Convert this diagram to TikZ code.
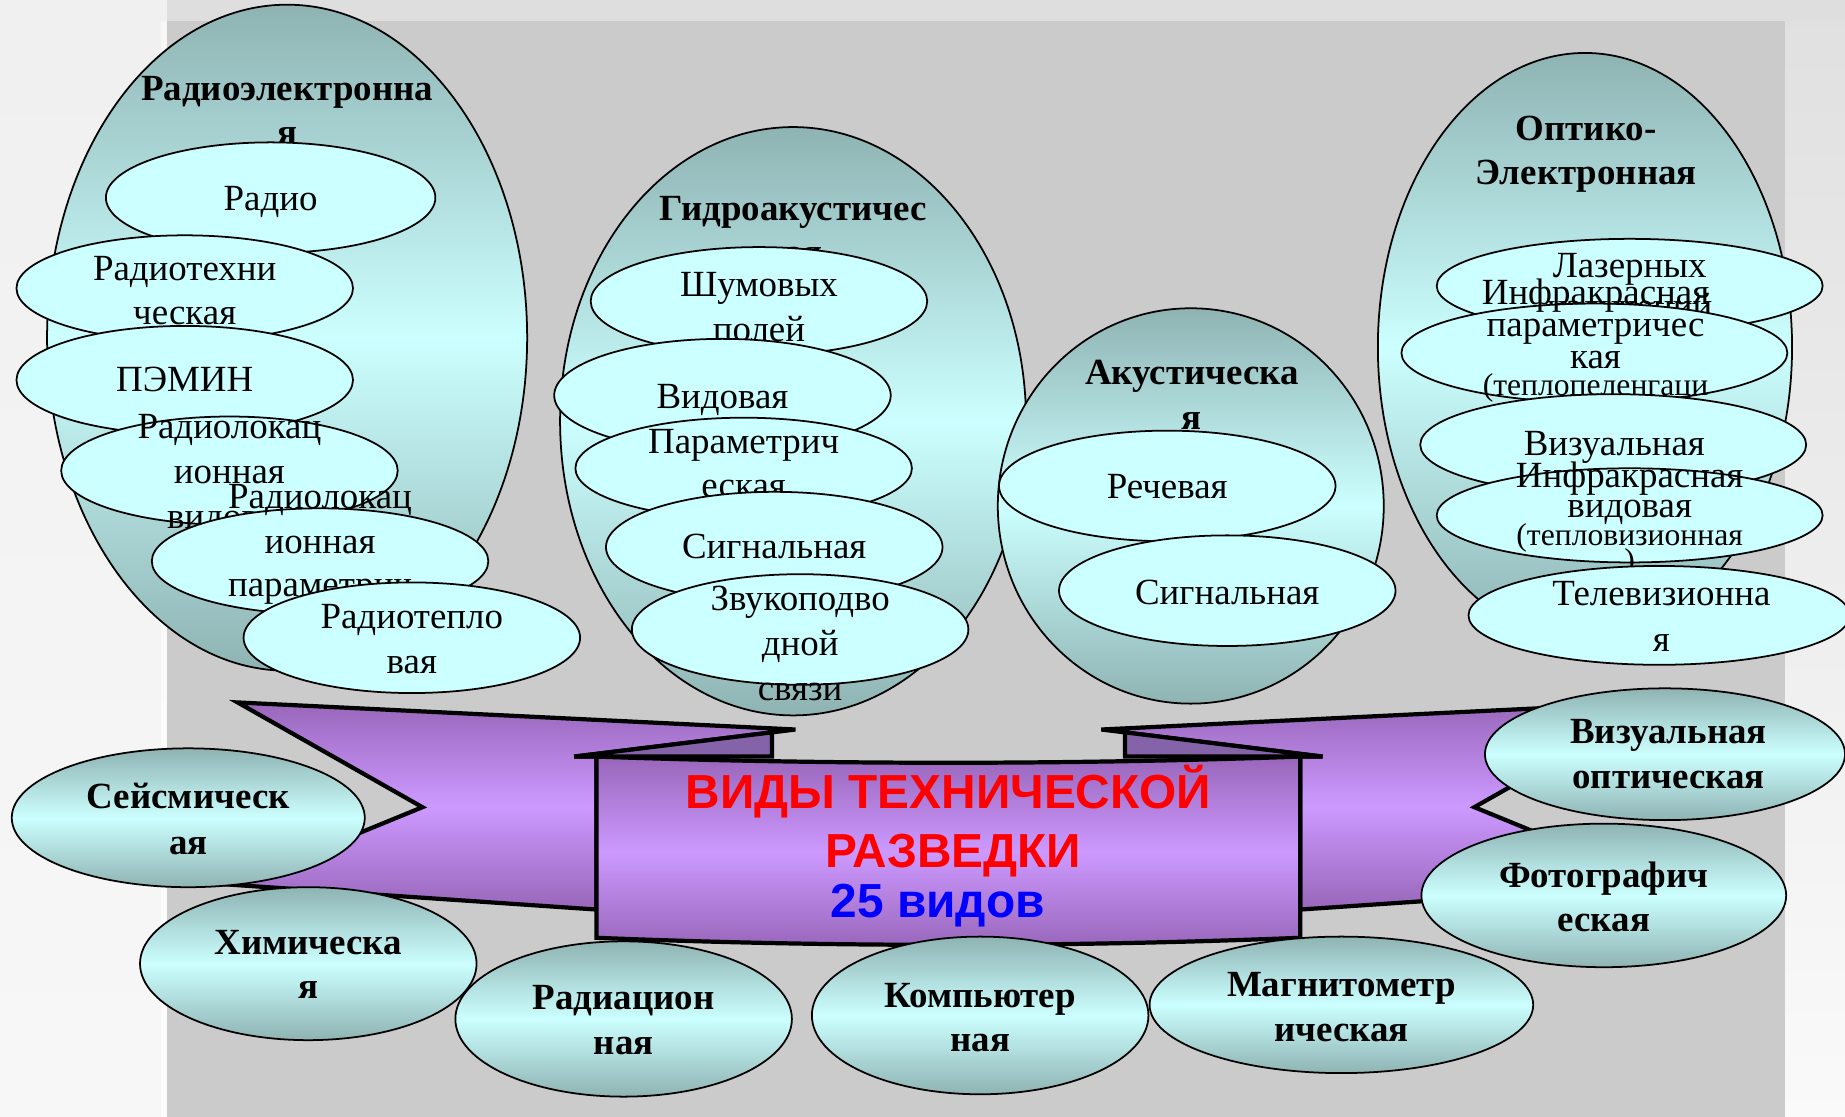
\documentclass[tikz,border=0pt]{standalone}
\usepackage{fontspec}
\setmainfont{Liberation Serif}
\newfontfamily\arialf{Liberation Sans}
\usetikzlibrary{shapes.geometric}
\definecolor{tealD}{HTML}{8FB3B3}
\definecolor{cyanL}{HTML}{CCFFFF}
\definecolor{ribD}{HTML}{9966BB}
\definecolor{ribL}{HTML}{CC99FF}
\definecolor{foldC}{HTML}{8563A8}
\definecolor{panelG}{HTML}{CBCBCB}
\definecolor{stripT}{HTML}{DEDEDE}
\tikzset{
 ebase/.style={ellipse, draw=black, line width=0.5pt, inner sep=0pt, outer sep=0pt},
 bigell/.style 2 args={ebase, minimum width={#1*0.023534cm}, minimum height={#2*0.023534cm}, top color=tealD, bottom color=tealD, middle color=cyanL},
 smell/.style 2 args={ebase, fill=cyanL, minimum width={#1*0.023534cm}, minimum height={#2*0.023534cm}},
 tx/.style={inner sep=0pt, anchor=base, font=\fontsize{10.5}{12.6}\selectfont},
 txb/.style={inner sep=0pt, anchor=base, font=\fontsize{10.5}{12.6}\selectfont\bfseries},
 txs/.style={inner sep=0pt, anchor=base, font=\fontsize{9}{10.8}\selectfont},
 ttl/.style={inner sep=0pt, anchor=base, font={\arialf\bfseries\fontsize{13.6}{16}\selectfont}},
 rib/.style={draw=black, line width=1.2pt, line join=miter, top color=ribD, bottom color=ribD, middle color=ribL},
 foldtri/.style={draw=black, line width=1.2pt, line join=miter, fill=foldC},
}
\begin{document}
\begin{tikzpicture}[x=0.011767cm, y=-0.011767cm]
\useasboundingbox (0,0) rectangle (1568,949);
% backgrounds
\fill[white!93!black] (0,0) rectangle (1568,949);
\shade[top color=white!94!black, middle color=white!87!black, bottom color=white!97!black] (0,0) rectangle (142,949);
\shade[top color=white!97!black, middle color=white!93!black, bottom color=white!99!black] (137,18) rectangle (142,949);
\fill[stripT] (142,0) rectangle (1568,18);
\fill[panelG] (142,18) rectangle (1517,949);
\shade[top color=white!88!black, middle color=white!90!black, bottom color=white!98!black] (1517,18) rectangle (1568,949);

% group 1
\node[bigell={204}{283}] (re) at (244,287) {};
\node[txb] (re-t1) at (244,85) {Радиоэлектронна};
\node[txb] (re-t2) at (244,123) {я};
\node[smell={140}{47}] (radio) at (230,168) {};
\node[tx] (radio-t) at (230,179) {Радио};
\node[smell={143}{45}] (rteh) at (157,245) {};
\node[tx] (rteh-t1) at (157,238) {Радиотехни};
\node[tx] (rteh-t2) at (157,276) {ческая};
\node[smell={143}{46}] (pemin) at (157,323) {};
\node[tx] (pemin-t) at (157,333) {ПЭМИН};
\node[smell={143}{46}] (rlv) at (195,400) {};
\node[tx] (rlv-t1) at (195,373) {Радиолокац};
\node[tx] (rlv-t2) at (195,411) {ионная};
\node[tx] (rlv-t3) at (195,449) {видовая};
\node[smell={143}{45}] (rlp) at (272,477) {};
\node[tx] (rlp-t1) at (272,432) {Радиолокац};
\node[tx] (rlp-t2) at (272,470) {ионная};
\node[tx] (rlp-t3) at (272,507) {параметрич};
\node[smell={143}{47}] (rtep) at (350,542) {};
\node[tx] (rtep-t1) at (350,534) {Радиотепло};
\node[tx] (rtep-t2) at (350,572) {вая};

% group 2
\node[bigell={198}{250}] (ga) at (674,358) {};
\node[txb] (ga-t1) at (674,187) {Гидроакустичес};
\node[txb] (ga-t2) at (674,225) {кая};
\node[smell={143}{46}] (shum) at (645,256) {};
\node[tx] (shum-t1) at (645,252) {Шумовых};
\node[tx] (shum-t2) at (645,290) {полей};
\node[smell={143}{48}] (vid) at (614,336) {};
\node[tx] (vid-t) at (614,347) {Видовая};
\node[smell={143}{43}] (par) at (632,398) {};
\node[tx] (par-t1) at (632,385) {Параметрич};
\node[tx] (par-t2) at (632,423) {еская};
\node[smell={143}{47}] (sig) at (658,465) {};
\node[tx] (sig-t) at (658,475) {Сигнальная};
\node[smell={143}{47}] (zvuk) at (680,535) {};
\node[tx] (zvuk-t1) at (680,519) {Звукоподво};
\node[tx] (zvuk-t2) at (680,557) {дной};
\node[tx] (zvuk-t3) at (680,595) {связи};

% group 3
\node[bigell={164}{168}] (ak) at (1012,430) {};
\node[txb] (ak-t1) at (1013,327) {Акустическа};
\node[txb] (ak-t2) at (1013,365) {я};
\node[smell={143}{47}] (rech) at (992,413) {};
\node[tx] (rech-t) at (992,424) {Речевая};
\node[smell={143}{47}] (sig2) at (1043,502) {};
\node[tx] (sig2-t) at (1043,514) {Сигнальная};

% group 4
\node[bigell={176}{250}] (oe) at (1347,295) {};
\node[txb] (oe-t1) at (1348,119) {Оптико-};
\node[txb] (oe-t2) at (1348,157) {Электронная};
\node[smell={164}{40}] (laz) at (1385,243) {};
\node[tx] (laz-t1) at (1385,236) {Лазерных};
\node[tx] (laz-t2) at (1385,271) {излучений};
\node[smell={164}{42}] (ikp) at (1355,300) {};
\node[tx] (ikp-t1) at (1356,259) {Инфракрасная};
\node[tx] (ikp-t2) at (1356,286) {параметричес};
\node[tx] (ikp-t3) at (1356,313) {кая};
\node[txs] (ikp-t4) at (1356,336) {(теплопеленгаци};
\node[smell={164}{43}] (viz) at (1371,378) {};
\node[tx] (viz-t) at (1372,387) {Визуальная};
\node[smell={164}{40}] (ikv) at (1385,438) {};
\node[tx] (ikv-t1) at (1385,414) {Инфракрасная};
\node[tx] (ikv-t2) at (1385,440) {видовая};
\node[txs] (ikv-t3) at (1385,464) {(тепловизионная};
\node[txs] (ikv-t4) at (1385,485) {)};
\node[smell={162}{42}] (tv) at (1410,523) {};
\node[tx] (tv-t1) at (1412,515) {Телевизионна};
\node[tx] (tv-t2) at (1412,554) {я};

% ribbon
\path[rib] (202,597) -- (676,620) -- (488,643) -- (507,643) -- (507,773) -- (198,752) -- (359,686) -- cycle;
\path[rib] (1410,597) -- (936,620) -- (1124,643) -- (1105,643) -- (1105,773) -- (1414,752) -- (1253,686) -- cycle;
\path[foldtri] (488,643) -- (656,622.4) -- (656,643) -- cycle;
\path[foldtri] (1124,643) -- (956,622.4) -- (956,643) -- cycle;
\path[rib] (507,643) .. controls (707,650) and (905,650) .. (1105,643) -- (1105,797) .. controls (905,805) and (707,805) .. (507,797) -- cycle;
\node[ttl, text=red] (tt1) at (806,687) {ВИДЫ ТЕХНИЧЕСКОЙ};
\node[ttl, text=red] (tt2) at (810,737) {РАЗВЕДКИ};
\node[ttl, text=blue] (tt3) at (797,780) {25 видов};

% bottom ellipses
\node[bigell={150}{59}] (seis) at (160,695) {};
\node[txb] (seis-t1) at (160,687) {Сейсмическ};
\node[txb] (seis-t2) at (160,726) {ая};
\node[bigell={143}{65}] (him) at (262,819) {};
\node[txb] (him-t1) at (262,811) {Химическа};
\node[txb] (him-t2) at (262,849) {я};
\node[bigell={143}{66}] (rad) at (530,866) {};
\node[txb] (rad-t1) at (530,858) {Радиацион};
\node[txb] (rad-t2) at (530,896) {ная};
\node[bigell={143}{67}] (komp) at (833,863) {};
\node[txb] (komp-t1) at (833,856) {Компьютер};
\node[txb] (komp-t2) at (833,894) {ная};
\node[bigell={163}{58}] (magn) at (1140,854) {};
\node[txb] (magn-t1) at (1140,847) {Магнитометр};
\node[txb] (magn-t2) at (1140,885) {ическая};
\node[bigell={155}{61}] (foto) at (1363,761) {};
\node[txb] (foto-t1) at (1363,754) {Фотографич};
\node[txb] (foto-t2) at (1363,792) {еская};
\node[bigell={153}{56}] (vizo) at (1415,641) {};
\node[txb] (vizo-t1) at (1418,632) {Визуальная};
\node[txb] (vizo-t2) at (1418,670) {оптическая};
\end{tikzpicture}
\end{document}
